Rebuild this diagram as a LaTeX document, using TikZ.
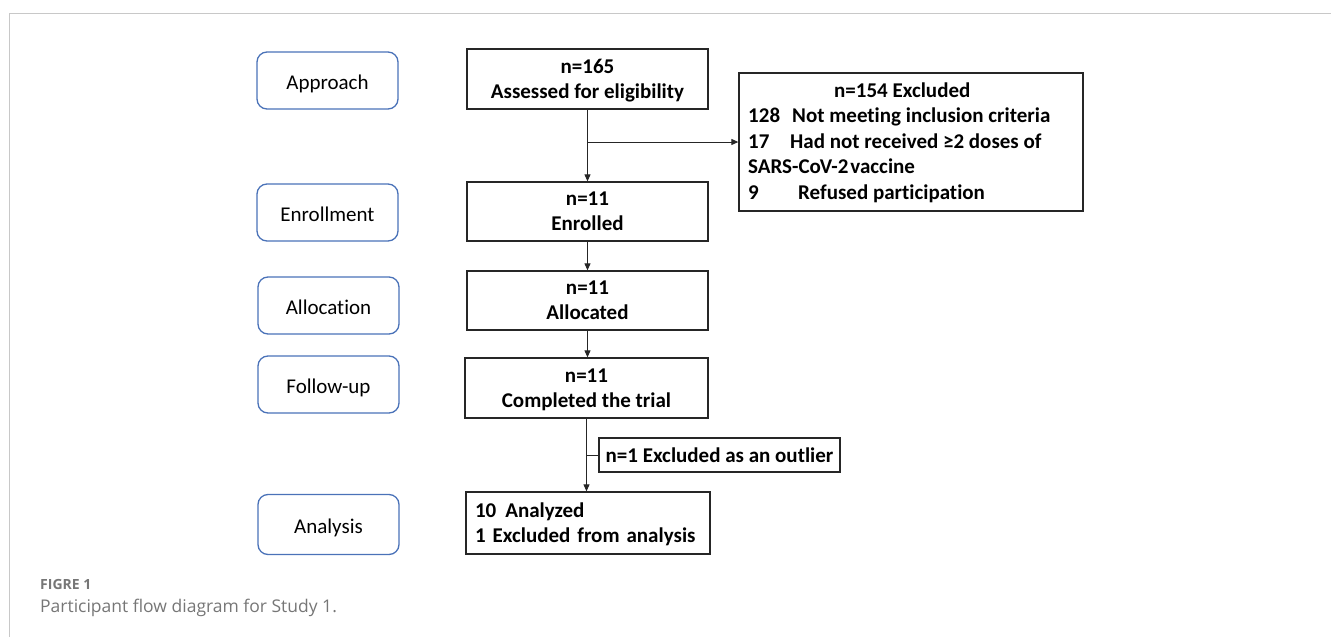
\documentclass[tikz,border=0pt]{standalone}
\usepackage{fontspec}
\setmainfont{Carlito}[Ligatures=NoCommon]
\newfontfamily\capfont{Open Sans}
\usetikzlibrary{arrows.meta}
\definecolor{labelblue}{HTML}{4A72B8}
\definecolor{framegray}{HTML}{C8C8C8}
\definecolor{captiongray}{HTML}{767676}
\definecolor{boxline}{HTML}{262626}
% strut giving every line of a flow box the same height and depth
\newcommand{\linestrut}{\rule[-4pt]{0pt}{21pt}}
\begin{document}
\begin{tikzpicture}[x=1pt,y=-1pt,
  stage/.style={draw=labelblue, line width=1.3pt, rounded corners=10pt,
    minimum width=141pt, minimum height=57pt, inner sep=0pt,
    font=\fontsize{21}{25}\selectfont, text height=17pt, text depth=0pt},
  flowbox/.style={draw=boxline, line width=1.3pt, minimum width=241pt,
    minimum height=60pt, inner sep=0pt, align=center,
    font=\fontsize{21}{25}\selectfont\bfseries},
  boxtext/.style={anchor=base west, inner sep=0pt,
    font=\fontsize{21}{25}\selectfont\bfseries},
  arr/.style={-{Triangle[length=7pt,width=6pt]}, line width=1pt, draw=boxline},
  link/.style={line width=1pt, draw=boxline},
  captext/.style={anchor=base west, inner sep=0pt, text=captiongray}
]
\useasboundingbox (0,0) rectangle (1331,637);

% page frame
\draw[framegray, line width=1.5pt] (1331,13.5) -- (9.5,13.5) -- (9.5,637);

% stage labels
\node[stage] (approach) at (327.5,80.5) {Approach};
\node[stage] (enroll) at (327.5,212.5) {Enrollment};
\node[stage] (alloc) at (328.5,305.5) {Allocation};
\node[stage] (follow) at (328.5,384.5) {Follow-up};
\node[stage, minimum height=60pt] (analysis) at (328.5,524.5) {Analysis};

% main flow
\node[flowbox] (b1) at (587.5,79) {\linestrut n=165\\\linestrut Assessed for eligibility};
\node[flowbox, minimum height=59pt] (b2) at (587.5,211.5) {\linestrut n=11\\\linestrut Enrolled};
\node[flowbox, minimum height=59pt] (b3) at (587.5,300.5) {\linestrut n=11\\\linestrut Allocated};
\node[flowbox, minimum width=243pt] (b4) at (586.5,388) {\linestrut n=11\\\linestrut Completed the trial};
\node[flowbox, minimum height=62pt, text width=226pt, inner xsep=9pt, align=left] (b5) at (588,523)
  {\linestrut 10\hspace{9pt}Analyzed\\\linestrut 1 Excluded from analysis};

% exclusion boxes
\node[draw=boxline, line width=1.3pt, minimum width=344pt, minimum height=138pt, inner sep=0pt] (excl) at (911,142) {};
\node[boxtext] (ex1) at (834,97) {n=154 Excluded};
\node[boxtext] (ex2) at (748,122.5) {\makebox[44pt][l]{128}Not meeting inclusion criteria};
\node[boxtext] (ex3) at (748,148) {\makebox[42pt][l]{17}Had not received ≥2 doses of};
\node[boxtext] (ex4) at (748,173.5) {SARS-CoV-2\hspace{2pt}vaccine};
\node[boxtext] (ex5) at (748,199) {\makebox[50pt][l]{9}Refused participation};

\node[draw=boxline, line width=1.3pt, minimum width=241pt, minimum height=34pt, inner sep=0pt,
  font=\fontsize{21}{25}\selectfont\bfseries, text height=15pt, text depth=1pt] (out) at (719.5,455)
  {n=1 Excluded as an outlier};

% connectors
\draw[arr] (b1) -- (b2);
\coordinate (split1) at (b1.south |- excl.west);
\draw[arr] (split1) -- (excl.west);
\draw[arr] (b2) -- (b3);
\draw[arr] (b3.south) -- (b3.south |- b4.north);
\draw[arr] (b4.south) -- (b4.south |- b5.north);
\coordinate (split2) at (b4.south |- out.west);
\draw[link] (split2) -- (out.west);

% caption
\node[captext, font=\capfont\bfseries\fontsize{14}{16}\selectfont] (fignum) at (40,589.5) {FIGRE 1};
\node[captext, font=\capfont\fontsize{17.5}{21}\selectfont] (caption) at (40,612) {Participant flow diagram for Study 1.};
\end{tikzpicture}
\end{document}
